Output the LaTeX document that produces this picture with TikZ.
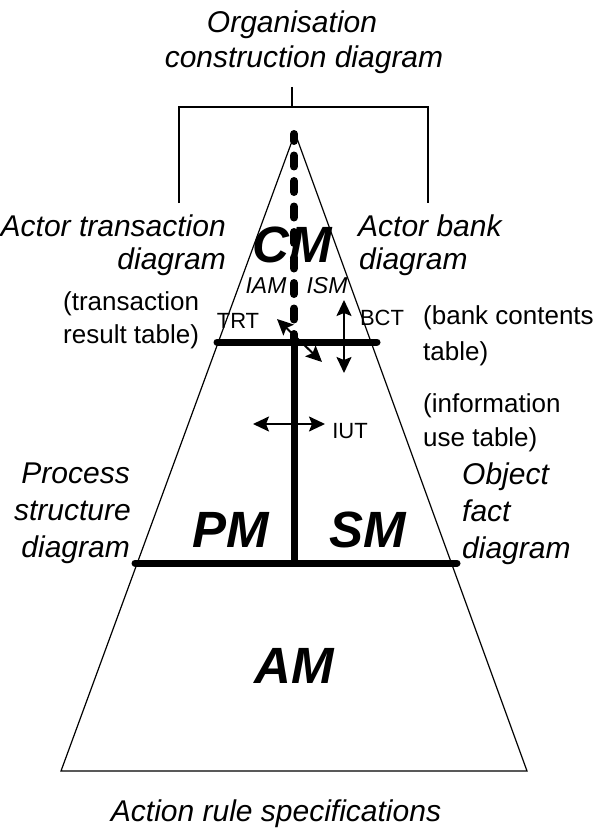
\documentclass[tikz,border=0pt]{standalone}
\usepackage{fontspec}
\setmainfont{Liberation Sans}
\usetikzlibrary{arrows.meta}
\begin{document}
\begin{tikzpicture}[x=1pt,y=-1pt,
  lab/.style={font=\fontsize{30}{36}\selectfont\itshape, inner sep=0pt},
  paren/.style={font=\fontsize{26}{32}\selectfont, inner sep=0pt},
  bigm/.style={font=\fontsize{51}{60}\selectfont\bfseries\itshape, inner sep=0pt},
  abbr/.style={font=\fontsize{22}{26}\selectfont, inner sep=0pt},
  abbrit/.style={font=\fontsize{23}{27}\selectfont\itshape, inner sep=0pt},
  thinline/.style={line width=1.2pt},
  bracketline/.style={line width=1.5pt},
  bar/.style={line width=7pt, line cap=round},
  dashbar/.style={line width=8pt, line cap=round, dash pattern=on 11pt off 14.5pt, dash phase=4pt},
  dbl/.style={line width=2pt, {Stealth[length=16pt,width=15pt,inset=3pt]}-{Stealth[length=16pt,width=15pt,inset=3pt]}}
]
\useasboundingbox (0,0) rectangle (600,829);
% triangle
\coordinate (apex) at (295,133);
\coordinate (bl) at (61,771);
\coordinate (br) at (527,771);
\draw[thinline, line join=miter] (apex) -- (bl) -- (br) -- cycle;
% bracket
\coordinate (stubtop) at (292,87);
\coordinate (stubbot) at (292,107);
\coordinate (brl) at (179,107);
\coordinate (brr) at (428,107);
\coordinate (brlb) at (179,203);
\coordinate (brrb) at (428,203);
\draw[line width=2pt] (stubtop) -- (stubbot);
\draw[bracketline] (brlb) -- (brl) -- (brr) -- (brrb);
% big labels
\node[bigm, anchor=base] (cm) at (292,262) {CM};
\node[bigm, anchor=base] (pm) at (231,547) {PM};
\node[bigm, anchor=base] (sm) at (368,547) {SM};
\node[bigm, anchor=base] (am) at (294,683) {AM};
% bars
\coordinate (ubl) at (217,342);
\coordinate (ubr) at (377,342);
\coordinate (ubm) at (294,342);
\coordinate (lbl) at (135,563);
\coordinate (lbr) at (457,563);
\coordinate (lbm) at (294,563);
\coordinate (dtop) at (294,134);
\draw[bar] (ubl) -- (ubr);
\draw[bar] (lbl) -- (lbr);
\draw[line width=7pt] (ubm) -- (lbm);
\draw[dashbar] (dtop) -- (ubm);
% arrows
\coordinate (ta1) at (277,319);
\coordinate (ta2) at (322,362);
\coordinate (ba1) at (344,300);
\coordinate (ba2) at (344,373);
\coordinate (ia1) at (253,424);
\coordinate (ia2) at (325,424);
\draw[dbl] (ta1) -- (ta2);
\draw[dbl] (ba1) -- (ba2);
\draw[dbl] (ia1) -- (ia2);
% small labels
\node[abbrit, anchor=base] (iam) at (266,293) {IAM};
\node[abbrit, anchor=base] (ism) at (327,293) {ISM};
\node[abbr, anchor=base] (trt) at (238,328) {TRT};
\node[abbr, anchor=base] (bct) at (382,325) {BCT};
\node[abbr, anchor=base] (iut) at (350,438) {IUT};
% italic side labels
\node[lab, anchor=base] (org1) at (292,33) {Organisation};
\node[lab, anchor=base] (org2) at (304,68) {construction diagram};
\node[lab, anchor=base east] (atd1) at (226,236) {Actor transaction};
\node[lab, anchor=base east] (atd2) at (226,269) {diagram};
\node[lab, anchor=base west] (abd1) at (358,236) {Actor bank};
\node[lab, anchor=base west] (abd2) at (359,269) {diagram};
\node[lab, anchor=base east] (ps1) at (130,483) {Process};
\node[lab, anchor=base east] (ps2) at (131,520) {structure};
\node[lab, anchor=base east] (ps3) at (130,557) {diagram};
\node[lab, anchor=base west] (of1) at (462,484) {Object};
\node[lab, anchor=base west] (of2) at (462,521) {fact};
\node[lab, anchor=base west] (of3) at (462,558) {diagram};
\node[lab, anchor=base] (ars) at (276,821) {Action rule specifications};
% parenthetical labels
\node[paren, anchor=base west] (trt1) at (63,310) {(transaction};
\node[paren, anchor=base west] (trt2) at (63,343) {result table)};
\node[paren, anchor=base west] (bct1) at (423,324) {(bank contents};
\node[paren, anchor=base west] (bct2) at (423,360) {table)};
\node[paren, anchor=base west] (iut1) at (423,412) {(information};
\node[paren, anchor=base west] (iut2) at (423,446) {use table)};
\end{tikzpicture}
\end{document}
